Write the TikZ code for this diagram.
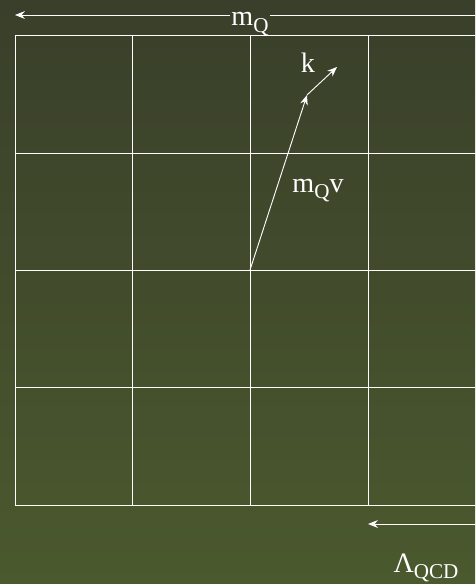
\documentclass[tikz,border=0pt]{standalone}
\usepackage{fontspec}
\setmainfont{Liberation Serif}
\usetikzlibrary{arrows.meta}
\definecolor{bgtop}{RGB}{57,63,42}
\definecolor{bgbot}{RGB}{75,89,46}
\newcommand{\lowsub}[1]{\raisebox{-4.5pt}{\fontsize{15}{15}\selectfont #1}}
\begin{document}
\begin{tikzpicture}[x=0.025cm,y=-0.025cm,
  every node/.style={text=white,font=\fontsize{20}{22}\selectfont,inner sep=1pt,anchor=base},
  gridline/.style={white,line width=0.65pt},
  scalearrow/.style={white,line width=0.65pt,-{Stealth[length=7pt,width=5.5pt]}}]
\useasboundingbox (0,0) rectangle (475,584);
\shade[top color=bgtop,bottom color=bgbot] (0,0) rectangle (475,584);
\begin{scope}
\clip (0,0) rectangle (475,584);
\foreach \x in {15,132,250,368}
  \draw[gridline] (\x,35) -- (\x,505);
\foreach \y in {35,153,270,387,505}
  \draw[gridline] (15,\y) -- (490,\y);
\node (mq) at (250,26) {m\lowsub{Q}};
\coordinate (tl) at (15,15);
\coordinate (tr) at (492,15);
\draw[scalearrow] (mq.west |- tl) -- (tl);
\draw[scalearrow] (mq.east |- tr) -- (tr);
\coordinate (o) at (250,270);
\coordinate (p) at (307,95);
\coordinate (q) at (337,67);
\draw[scalearrow] (o) -- (p);
\draw[scalearrow] (p) -- (q);
\node (k) at (308,73) {k};
\node (mqv) at (318,192) {m\lowsub{Q}v};
\coordinate (bl) at (368,524);
\coordinate (br) at (500,524);
\draw[scalearrow,{Stealth[length=7pt,width=5.5pt]}-{Stealth[length=7pt,width=5.5pt]}] (bl) -- (br);
\node (lqcd) at (426,572) {Λ\lowsub{QCD}};
\end{scope}
\end{tikzpicture}
\end{document}
